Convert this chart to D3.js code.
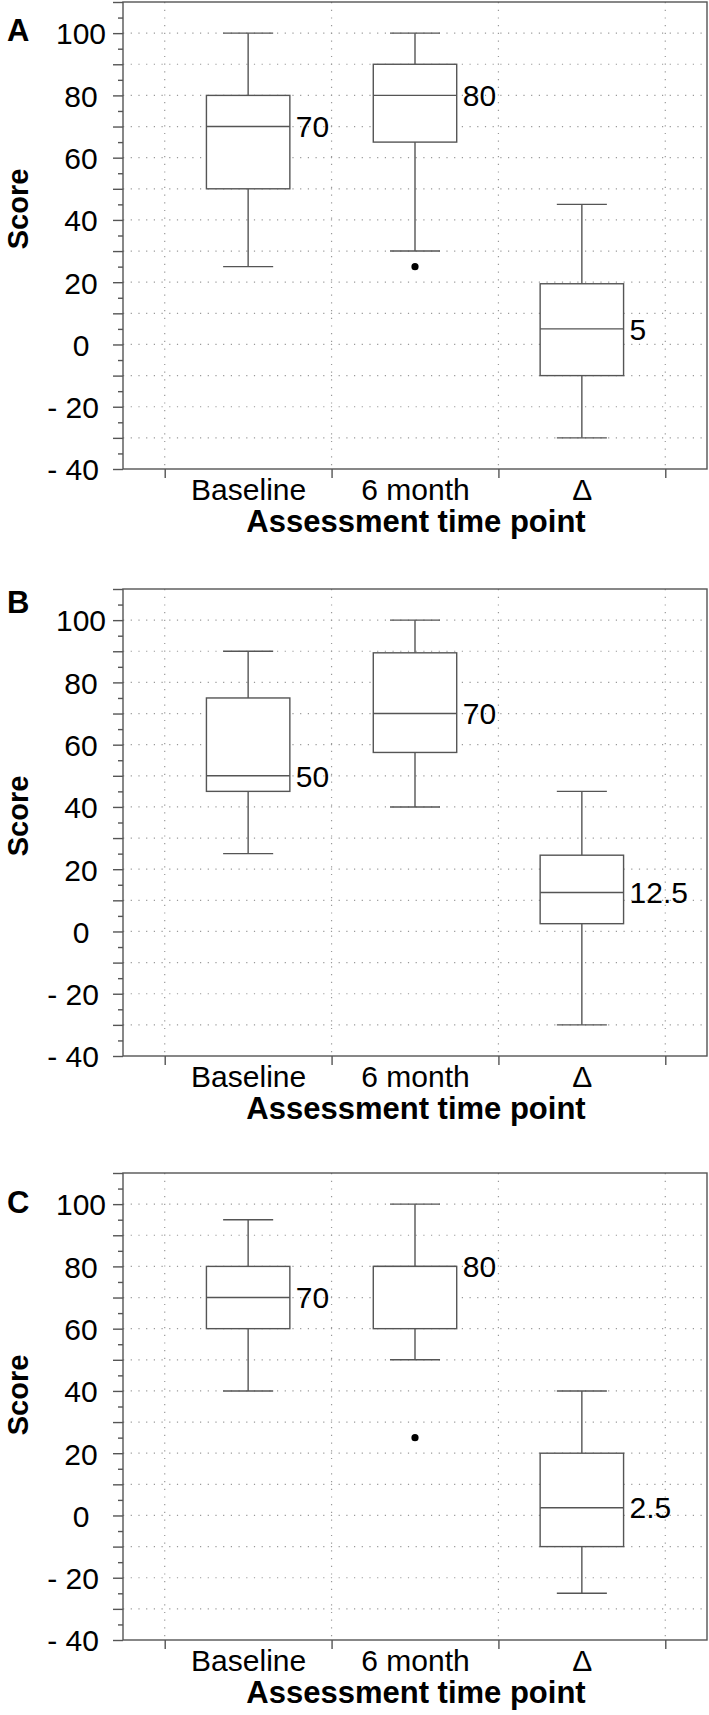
<!DOCTYPE html>
<html>
<head>
<meta charset="utf-8">
<script src="https://cdn.jsdelivr.net/npm/d3@7"></script>
<style>
  body { margin: 0; background: #fff; }
  text { font-family: "Liberation Sans", Arial, sans-serif; fill: #000; }
</style>
</head>
<body>
<div id="chart"></div>
<script>
// Data
var categories = ["Baseline", "6 month", "\u0394"];
var panelLetters = ["A", "B", "C"];

// Panel A
var lowA = [25, 30, -30];
var q1A = [50, 65, -10];
var medA = [70, 80, 5];
var q3A = [80, 90, 19.5];
var highA = [100, 100, 45];
var outA = [[], [25], []];

// Panel B
var lowB = [25, 40, -30];
var q1B = [45, 57.5, 2.5];
var medB = [50, 70, 12.5];
var q3B = [75, 89.5, 24.5];
var highB = [90, 100, 45];
var outB = [[], [], []];

// Panel C
var lowC = [40, 50, -25];
var q1C = [60, 60, -10];
var medC = [70, 80, 2.5];
var q3C = [80, 80, 20];
var highC = [95, 100, 40];
var outC = [[], [25], []];

var labelTicks = [-40, -20, 0, 20, 40, 60, 80, 100];

var panels = [
    {letter: panelLetters[0], low: lowA, q1: q1A, med: medA, q3: q3A, high: highA, out: outA},
    {letter: panelLetters[1], low: lowB, q1: q1B, med: medB, q3: q3B, high: highB, out: outB},
    {letter: panelLetters[2], low: lowC, q1: q1C, med: medC, q3: q3C, high: highC, out: outC}
];

// layout
var svgWidth = 709;
var svgHeight = 1715;
var left = 123, right = 707;
var plotHeight = 467;
var panelTops = [2, 589, 1173];
var letterDy = [39, 24, 40];
var scoreDy = [207, 227, 222];
var lineColor = "#555";
var gridColor = "#999";
var fontSize = 30;

var svg = d3.select("#chart")
    .append("svg")
    .attr("width", svgWidth)
    .attr("height", svgHeight);

var x = d3.scaleLinear()
    .domain([0.25, 3.75])
    .range([left, right]);

panels.forEach(function(p, pi) {
    var top = panelTops[pi];
    var y = d3.scaleLinear()
        .domain([-40, 110])
        .range([top + plotHeight, top]);

    var g = svg.append("g");

    // horizontal dotted grid
    g.selectAll(".hgrid")
        .data(d3.range(-30, 101, 10))
        .enter()
        .append("line")
        .attr("x1", left)
        .attr("x2", right)
        .attr("y1", d => y(d))
        .attr("y2", d => y(d))
        .attr("stroke", gridColor)
        .attr("stroke-width", 1.2)
        .attr("stroke-dasharray", "1.2,6.5");

    // vertical dotted grid
    g.selectAll(".vgrid")
        .data([0.5, 1.5, 2.5, 3.5])
        .enter()
        .append("line")
        .attr("x1", d => x(d))
        .attr("x2", d => x(d))
        .attr("y1", y(110))
        .attr("y2", y(-40))
        .attr("stroke", gridColor)
        .attr("stroke-width", 1.2)
        .attr("stroke-dasharray", "1.2,6.5");

    // frame
    g.append("rect")
        .attr("x", left)
        .attr("y", y(110))
        .attr("width", right - left)
        .attr("height", y(-40) - y(110))
        .attr("fill", "none")
        .attr("stroke", lineColor)
        .attr("stroke-width", 1.4);

    // y axis: minor ticks every 5
    var minorAxis = g.append("g")
        .attr("transform", `translate(${left},0)`)
        .call(d3.axisLeft(y).tickValues(d3.range(-35, 110, 10)).tickSize(5).tickFormat(""));
    // major ticks every 10 with labels every 20
    var majorAxis = g.append("g")
        .attr("transform", `translate(${left},0)`)
        .call(d3.axisLeft(y).tickValues(d3.range(-40, 111, 10)).tickSize(10)
            .tickFormat(d => labelTicks.indexOf(d) >= 0 ? (d < 0 ? "- " + Math.abs(d) : d) : ""));
    [minorAxis, majorAxis].forEach(function(ax) {
        ax.select(".domain").remove();
        ax.selectAll("line").attr("stroke", lineColor).attr("stroke-width", 1.4);
    });
    majorAxis.selectAll("text")
        .style("font-family", '"Liberation Sans", Arial, sans-serif')
        .style("font-size", fontSize + "px")
        .attr("fill", "#000")
        .attr("dy", "0.36em")
        .attr("text-anchor", d => d < 0 ? "end" : "middle")
        .attr("x", d => d < 0 ? -24 : -42);

    // x axis ticks
    var xTicks = g.append("g")
        .attr("transform", `translate(0,${y(-40)})`)
        .call(d3.axisBottom(x).tickValues([0.5, 1.5, 2.5, 3.5]).tickSize(9).tickFormat(""));
    xTicks.select(".domain").remove();
    xTicks.selectAll("line").attr("stroke", lineColor).attr("stroke-width", 1.4);

    var xLabels = g.append("g")
        .attr("transform", `translate(0,${y(-40)})`)
        .call(d3.axisBottom(x).tickValues([1, 2, 3]).tickSize(0).tickFormat(d => categories[d - 1]));
    xLabels.select(".domain").remove();
    xLabels.selectAll("text")
        .style("font-family", '"Liberation Sans", Arial, sans-serif')
        .style("font-size", fontSize + "px")
        .attr("fill", "#000")
        .attr("y", 31)
        .attr("dy", 0);

    // axis titles
    g.append("text")
        .attr("x", (left + right) / 2 + 1)
        .attr("y", y(-40) + 63)
        .attr("text-anchor", "middle")
        .style("font-size", "31px")
        .style("font-weight", "bold")
        .text("Assessment time point");

    g.append("text")
        .attr("transform", `translate(28,${top + scoreDy[pi]}) rotate(-90)`)
        .attr("text-anchor", "middle")
        .style("font-size", "29px")
        .style("font-weight", "bold")
        .text("Score");

    // panel letter
    g.append("text")
        .attr("x", 7)
        .attr("y", top + letterDy[pi])
        .style("font-size", "31px")
        .style("font-weight", "bold")
        .text(p.letter);

    // boxes
    var idx = [0, 1, 2];
    var boxes = g.selectAll(".box")
        .data(idx)
        .enter()
        .append("g");

    boxes.append("line")
        .attr("x1", i => x(i + 1))
        .attr("x2", i => x(i + 1))
        .attr("y1", i => y(p.high[i]))
        .attr("y2", i => y(p.q3[i]))
        .attr("stroke", lineColor).attr("stroke-width", 1.4);
    boxes.append("line")
        .attr("x1", i => x(i + 1))
        .attr("x2", i => x(i + 1))
        .attr("y1", i => y(p.q1[i]))
        .attr("y2", i => y(p.low[i]))
        .attr("stroke", lineColor).attr("stroke-width", 1.4);
    boxes.append("line")
        .attr("x1", i => x(i + 1 - 0.15))
        .attr("x2", i => x(i + 1 + 0.15))
        .attr("y1", i => y(p.high[i]))
        .attr("y2", i => y(p.high[i]))
        .attr("stroke", lineColor).attr("stroke-width", 1.4);
    boxes.append("line")
        .attr("x1", i => x(i + 1 - 0.15))
        .attr("x2", i => x(i + 1 + 0.15))
        .attr("y1", i => y(p.low[i]))
        .attr("y2", i => y(p.low[i]))
        .attr("stroke", lineColor).attr("stroke-width", 1.4);
    boxes.append("rect")
        .attr("x", i => x(i + 1 - 0.25))
        .attr("width", x(1.25) - x(0.75))
        .attr("y", i => y(p.q3[i]))
        .attr("height", i => y(p.q1[i]) - y(p.q3[i]))
        .attr("fill", "#fff")
        .attr("stroke", lineColor).attr("stroke-width", 1.4);
    boxes.append("line")
        .attr("x1", i => x(i + 1 - 0.25))
        .attr("x2", i => x(i + 1 + 0.25))
        .attr("y1", i => y(p.med[i]))
        .attr("y2", i => y(p.med[i]))
        .attr("stroke", lineColor).attr("stroke-width", 1.4);
    boxes.append("text")
        .attr("x", i => x(i + 1 + 0.25) + 6)
        .attr("y", i => y(p.med[i]))
        .attr("dy", "0.36em")
        .style("font-size", fontSize + "px")
        .text(i => p.med[i]);

    // outliers
    idx.forEach(function(i) {
        g.selectAll(null)
            .data(p.out[i])
            .enter()
            .append("circle")
            .attr("cx", x(i + 1))
            .attr("cy", d => y(d))
            .attr("r", 3.6)
            .attr("fill", "#000");
    });
});
</script>
</body>
</html>
